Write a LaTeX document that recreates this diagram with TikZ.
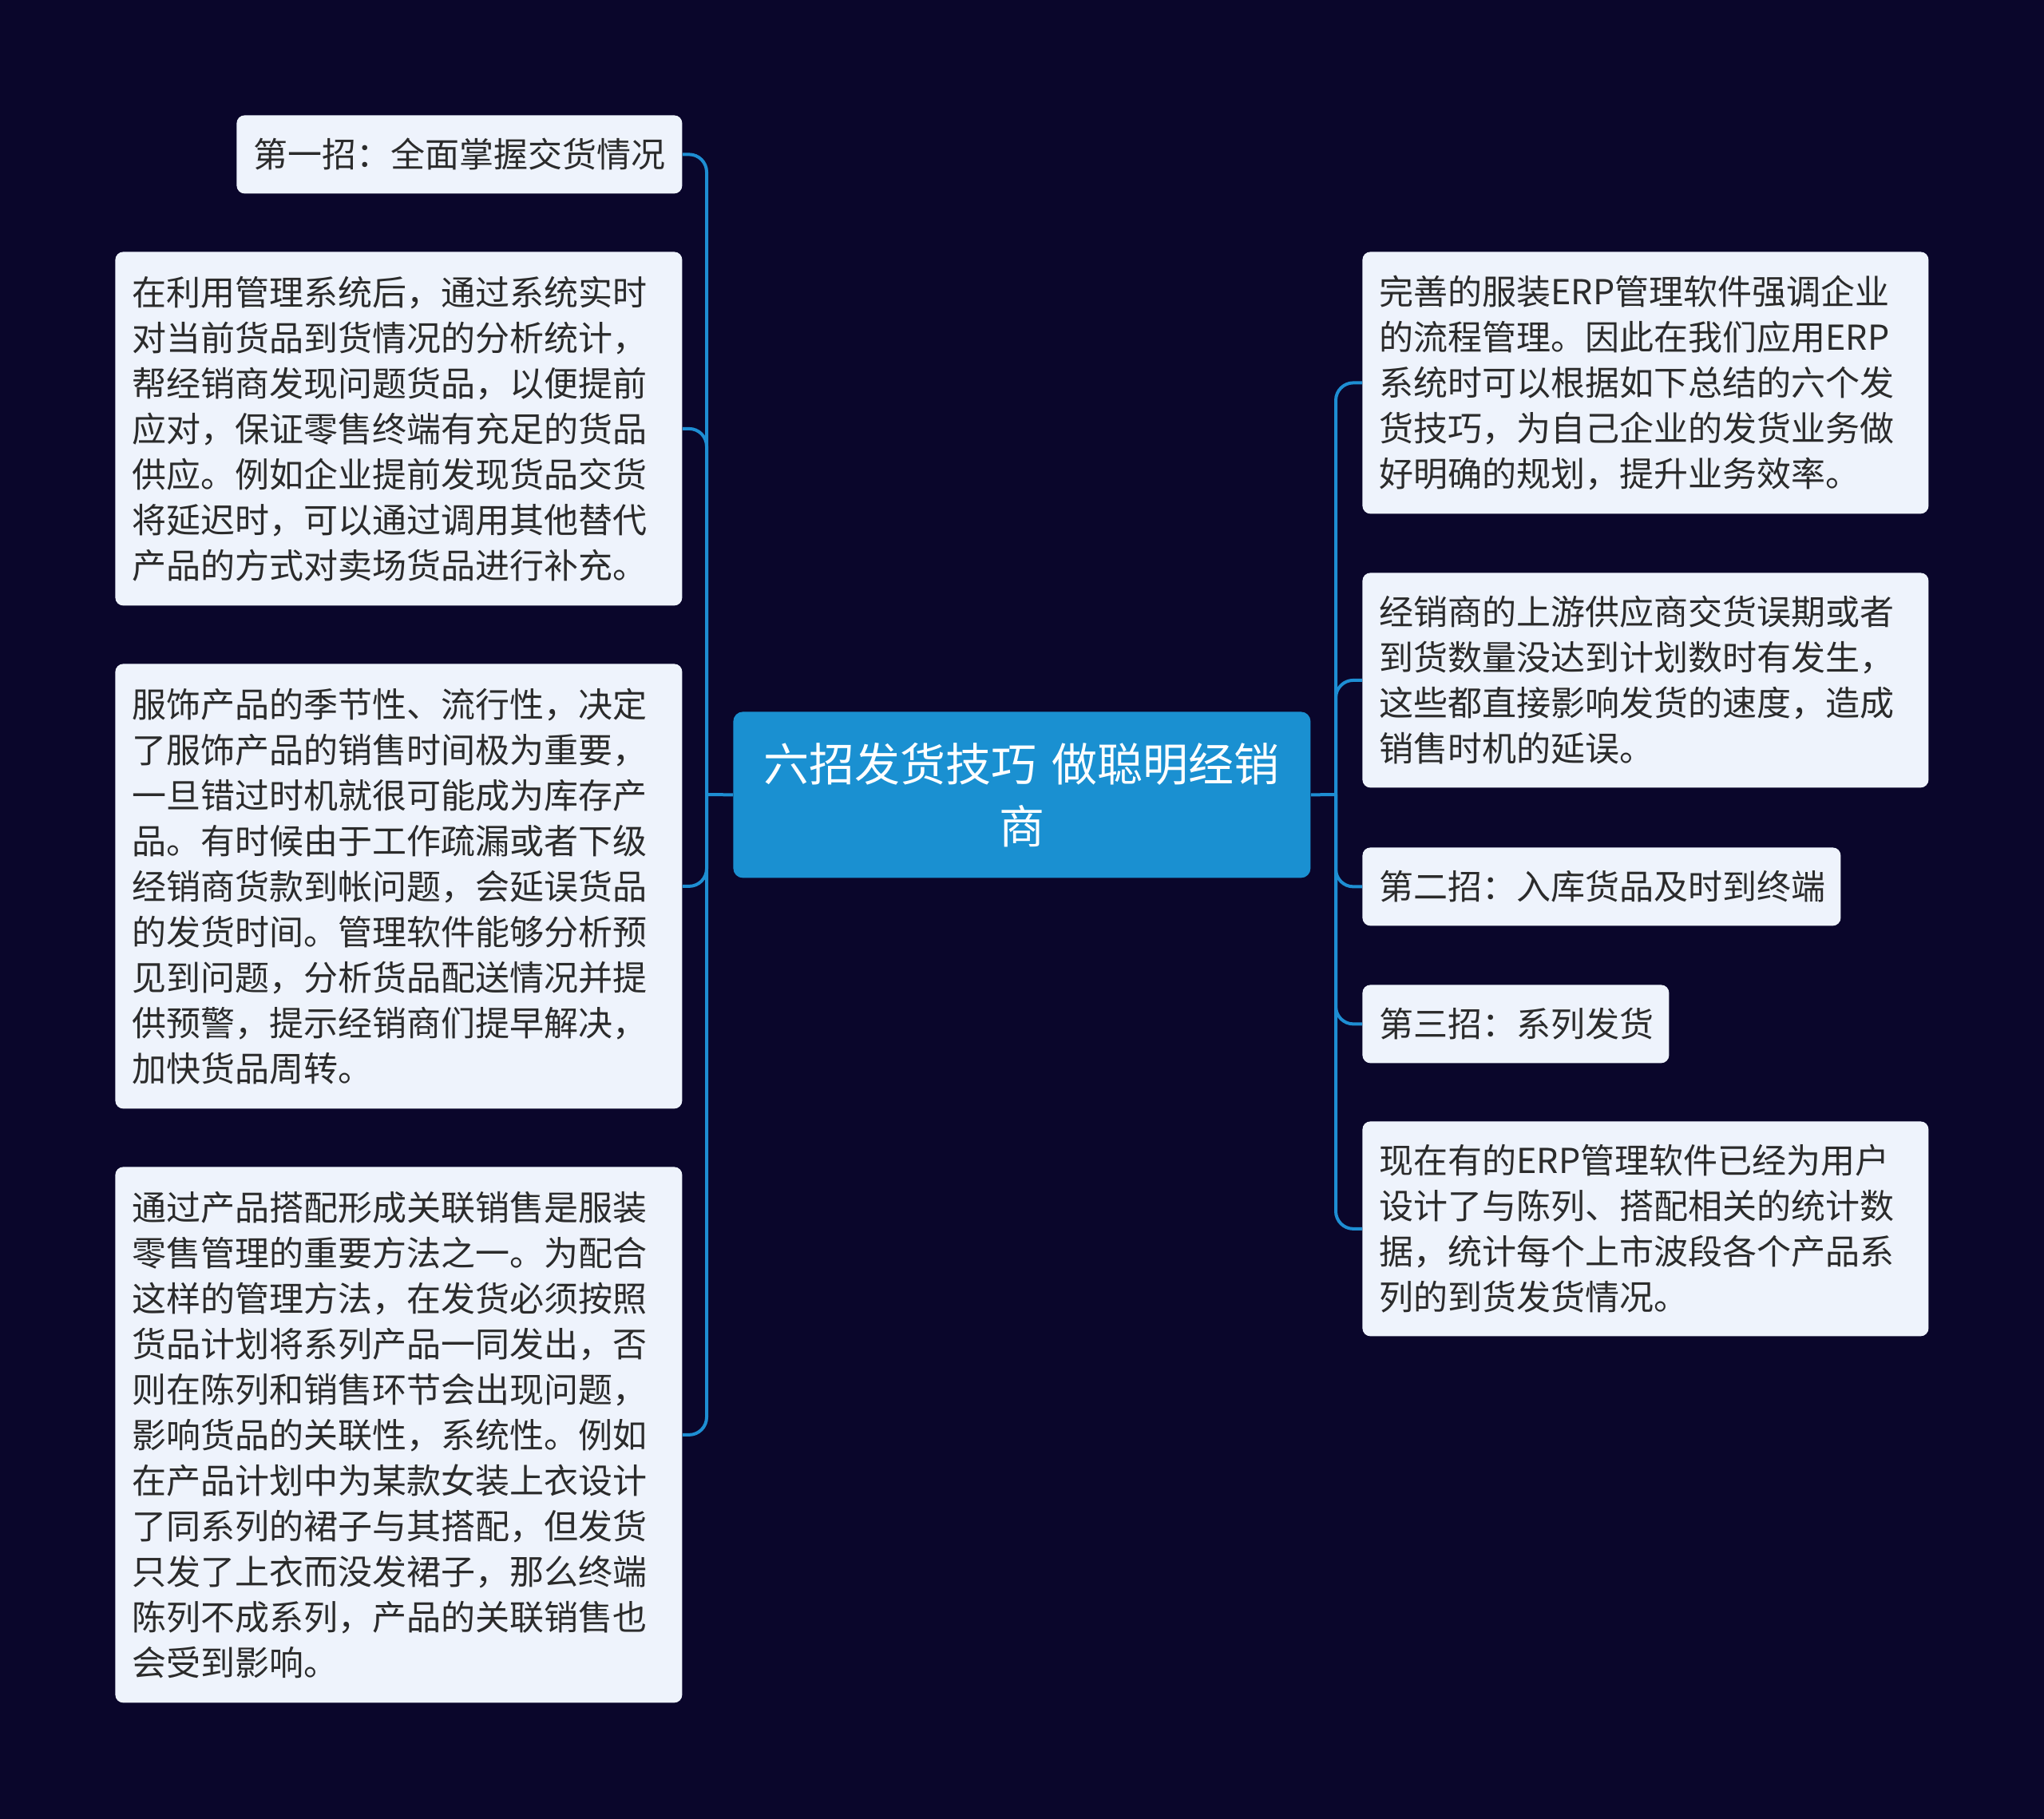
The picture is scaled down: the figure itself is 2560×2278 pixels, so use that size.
\documentclass[tikz,border=0pt]{standalone}
\usepackage{fontspec}
\setmainfont{Noto Sans CJK SC}
\definecolor{bgc}{HTML}{0A062B}
\definecolor{leafbg}{HTML}{EEF3FC}
\definecolor{textc}{HTML}{2B2B2B}
\definecolor{rootc}{HTML}{1A90D1}
\definecolor{linec}{HTML}{1E8ED3}
\begin{document}
\begin{tikzpicture}[x=0.5pt,y=-0.5pt,
  leaf/.style={fill=leafbg, rounded corners=5pt, text=textc, align=left,
    inner xsep=10.5pt, inner ysep=0pt, anchor=north west,
    font=\fontsize{21.5pt}{28.5pt}\selectfont},
  rootbox/.style={fill=rootc, rounded corners=6pt, text=white, align=center,
    inner xsep=10.75pt, inner ysep=0pt, anchor=north west,
    font=\fontsize{28.5pt}{39pt}\selectfont},
  conn/.style={draw=linec, line width=2pt, rounded corners=11pt}]
\fill[bgc] (0,0) rectangle (2560,2278);
\useasboundingbox (0,0) rectangle (2560,2278);

\node[rootbox, text width=340pt, minimum height=104pt] (ctr) at (918,891)
  {六招发货技巧 做聪明经销\\商};

\node[leaf, text width=258pt, minimum height=49pt] (L1) at (296,144)
  {第一招：全面掌握交货情况};
\node[leaf, text width=334pt, minimum height=221.5pt] (L2) at (144,315)
  {在利用管理系统后，通过系统实时\\对当前货品到货情况的分析统计，\\帮经销商发现问题货品，以便提前\\应对，保证零售终端有充足的货品\\供应。例如企业提前发现货品交货\\将延迟时，可以通过调用其他替代\\产品的方式对卖场货品进行补充。};
\node[leaf, text width=334pt, minimum height=278.5pt] (L3) at (144,831)
  {服饰产品的季节性、流行性，决定\\了服饰产品的销售时间极为重要，\\一旦错过时机就很可能成为库存产\\品。有时候由于工作疏漏或者下级\\经销商货款到帐问题，会延误货品\\的发货时间。管理软件能够分析预\\见到问题，分析货品配送情况并提\\供预警，提示经销商们提早解决，\\加快货品周转。};
\node[leaf, text width=334pt, minimum height=335.5pt] (L4) at (144,1461)
  {通过产品搭配形成关联销售是服装\\零售管理的重要方法之一。为配合\\这样的管理方法，在发货必须按照\\货品计划将系列产品一同发出，否\\则在陈列和销售环节会出现问题，\\影响货品的关联性，系统性。例如\\在产品计划中为某款女装上衣设计\\了同系列的裙子与其搭配，但发货\\只发了上衣而没发裙子，那么终端\\陈列不成系列，产品的关联销售也\\会受到影响。};

\node[leaf, text width=333.5pt, minimum height=164pt] (R1) at (1706,315)
  {完善的服装ERP管理软件强调企业\\的流程管理。因此在我们应用ERP\\系统时可以根据如下总结的六个发\\货技巧，为自己企业的发货业务做\\好明确的规划，提升业务效率。};
\node[leaf, text width=333.5pt, minimum height=134.5pt] (R2) at (1706,717)
  {经销商的上游供应商交货误期或者\\到货数量没达到计划数时有发生，\\这些都直接影响发货的速度，造成\\销售时机的延误。};
\node[leaf, text width=278.5pt, minimum height=49pt] (R3) at (1706,1061)
  {第二招：入库货品及时到终端};
\node[leaf, text width=171pt, minimum height=49pt] (R4) at (1706,1233)
  {第三招：系列发货};
\node[leaf, text width=333.5pt, minimum height=134.5pt] (R5) at (1706,1404)
  {现在有的ERP管理软件已经为用户\\设计了与陈列、搭配相关的统计数\\据，统计每个上市波段各个产品系\\列的到货发货情况。};

\coordinate (tL) at (885,995);
\coordinate (tR) at (1673,995);
\draw[conn, sharp corners] (ctr.west) -- (tL);
\draw[conn, sharp corners] (ctr.east) -- (tR);
\foreach \n in {L1,L2,L3,L4}
  \draw[conn] (tL) |- (\n.east);
\foreach \n in {R1,R2,R3,R4,R5}
  \draw[conn] (tR) |- (\n.west);
\end{tikzpicture}
\end{document}
